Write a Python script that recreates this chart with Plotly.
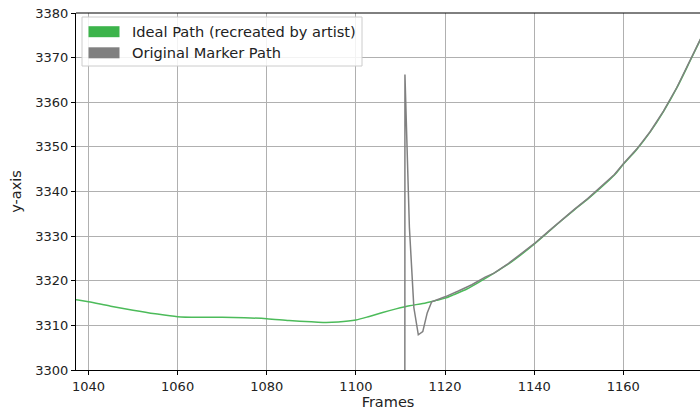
import plotly.graph_objects as go

# Ideal path (green)
ideal_frames = [1035, 1037, 1040, 1045, 1050, 1055, 1060, 1065, 1070, 1075, 1080, 1085,
                1090, 1093, 1096, 1100, 1103, 1106, 1109, 1112, 1115, 1118, 1120, 1122,
                1125, 1128, 1131, 1134, 1137, 1140, 1143, 1146, 1149, 1152, 1155, 1158,
                1160, 1163, 1166, 1169, 1172, 1175, 1178]
ideal_y = [3316.2, 3315.8, 3315.3, 3314.3, 3313.4, 3312.6, 3311.95, 3311.8, 3311.8, 3311.7,
           3311.5, 3311.1, 3310.8, 3310.65, 3310.75, 3311.2, 3312.0, 3312.9, 3313.7, 3314.4,
           3314.9, 3315.6, 3316.1, 3316.9, 3318.2, 3319.9, 3321.7, 3323.6, 3325.8, 3328.2,
           3330.8, 3333.4, 3335.9, 3338.3, 3340.9, 3343.7, 3346.1, 3349.4, 3353.3, 3357.9,
           3363.2, 3369.3, 3375.5]

# Original marker path (gray); 0 = marker missing
marker_frames = [1109, 1110, 1111, 1112, 1113, 1114, 1115, 1116, 1117, 1120, 1123, 1126,
                 1129, 1131, 1134, 1137, 1140, 1143, 1146, 1149, 1152, 1155, 1158, 1160,
                 1163, 1166, 1169, 1172, 1175, 1178]
marker_y = [0, 0, 3366.2, 3332.0, 3314.0, 3307.9, 3308.6, 3312.8, 3315.3, 3316.4, 3317.7,
            3319.1, 3320.8, 3321.7, 3323.7, 3325.9, 3328.3, 3330.9, 3333.5, 3336.0, 3338.4,
            3341.0, 3343.8, 3346.2, 3349.5, 3353.4, 3358.0, 3363.3, 3369.4, 3375.6]

legend_names = ["Ideal Path (recreated by artist)", "Original Marker Path"]
legend_colors = ["#3cb44b", "#808080"]
GRAY = "#808080"
FONT = "DejaVu Sans"

# plot-area pixel geometry (for the hand-drawn legend)
L, R, T, B = 76, 700, 13, 370


def px(x):
    return (x - L) / (R - L)


def py(y):
    return (B - y) / (B - T)


fig = go.Figure()
fig.add_trace(go.Scatter(x=ideal_frames, y=ideal_y, mode="lines", name=legend_names[0],
                         line=dict(color="#4cbb5a", width=1.5, shape="spline", smoothing=0.8),
                         showlegend=False, hoverinfo="skip"))
fig.add_trace(go.Scatter(x=marker_frames, y=marker_y, mode="lines", name=legend_names[1],
                         line=dict(color=GRAY, width=1.5), showlegend=False,
                         hoverinfo="skip"))

axis_common = dict(
    showgrid=True, gridcolor="#b0b0b0", gridwidth=1,
    showline=True, linecolor="black", linewidth=1,
    ticks="outside", ticklen=4, tickcolor="black", tickwidth=1,
    zeroline=False,
    tickfont=dict(family=FONT, size=13, color="#222"),
)

shapes = [dict(type="line", xref="paper", yref="paper", x0=0, x1=1, y0=1, y1=1,
               line=dict(color="black", width=1))]
# legend frame
shapes.append(dict(type="rect", xref="paper", yref="paper", layer="above",
                   x0=px(82), x1=px(362), y0=py(66), y1=py(17),
                   fillcolor="rgba(255,255,255,0.85)", line=dict(color="#cccccc", width=1)))
annotations = []
row_centers = [31.7, 52.8]
for name, col, yc in zip(legend_names, legend_colors, row_centers):
    shapes.append(dict(type="rect", xref="paper", yref="paper", layer="above",
                       x0=px(88.5), x1=px(119.5), y0=py(yc + 5.5), y1=py(yc - 5.5),
                       fillcolor=col, line=dict(width=0)))
    annotations.append(dict(text=name, xref="paper", yref="paper", x=px(130), y=py(yc),
                            xanchor="left", yanchor="middle", showarrow=False,
                            font=dict(family=FONT, size=14.6, color="#222")))

fig.update_layout(
    width=700, height=414,
    margin=dict(l=L, r=700 - R, t=T, b=414 - B),
    paper_bgcolor="white", plot_bgcolor="white",
    font=dict(family=FONT, size=13, color="#222"),
    showlegend=False,
    xaxis=dict(range=[1037.2, 1177.2], tickvals=[1040, 1060, 1080, 1100, 1120, 1140, 1160],
               title=dict(text="Frames", font=dict(family=FONT, size=14.5), standoff=4),
               **axis_common),
    yaxis=dict(range=[3300, 3380], dtick=10,
               title=dict(text="y-axis", font=dict(family=FONT, size=14.5), standoff=10),
               **axis_common),
    shapes=shapes,
    annotations=annotations,
)

fig.write_html("out.html")
